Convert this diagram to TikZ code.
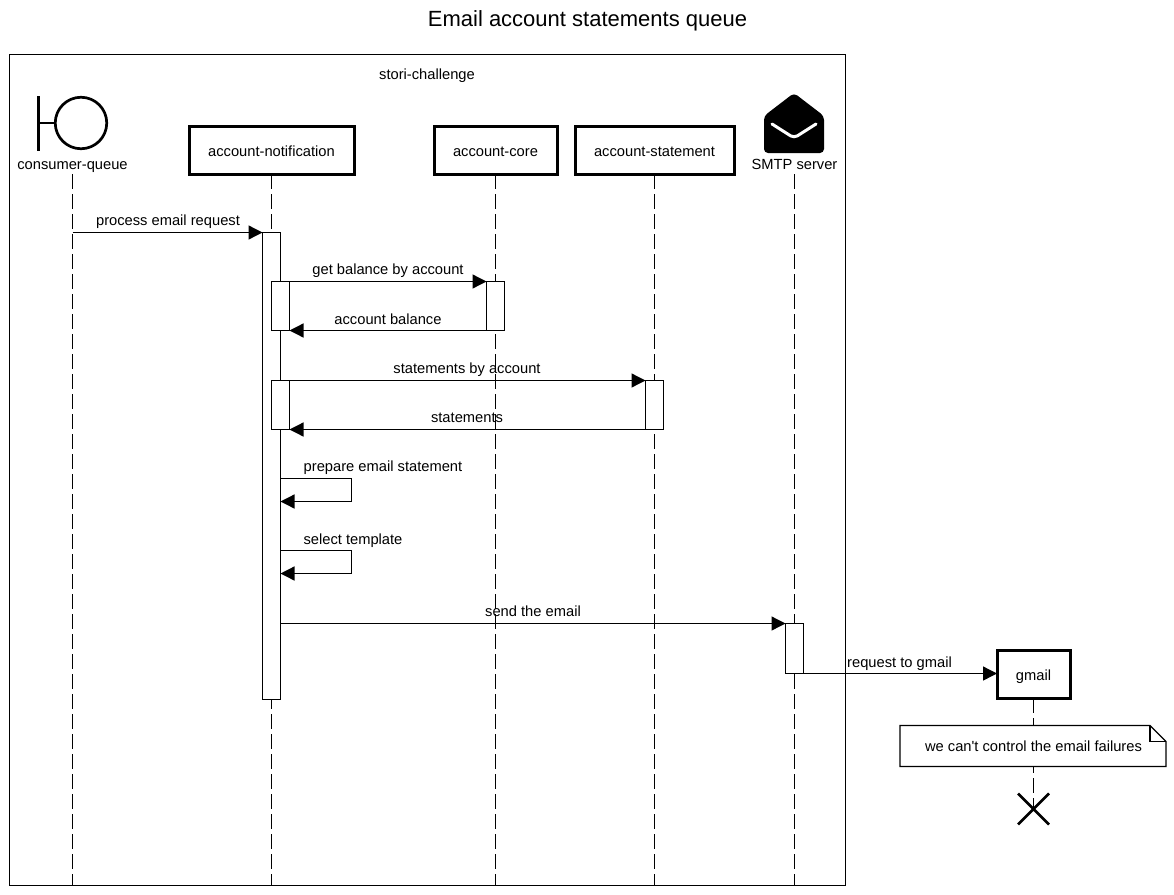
\documentclass[tikz,border=0pt]{standalone}
\usepackage{fontspec}
\setmainfont{Liberation Sans}
\usetikzlibrary{arrows.meta,shapes.misc}

\tikzset{
  every node/.style={font=\fontsize{14.7}{16}\selectfont, inner sep=0pt, outer sep=0pt, text height=11pt, text depth=0pt},
  actorbox/.style={draw, line width=3pt, fill=white, minimum height=48pt, text height=13.5pt},
  lifeline/.style={line width=1.3pt, dash pattern=on 15pt off 5pt},
  actbox/.style={draw, line width=1.3pt, fill=white, minimum width=18pt},
  msg/.style={line width=1.3pt, -{Triangle[length=14pt,width=14pt]}},
  heavy/.style={line width=2.7pt}
}

\begin{document}
\begin{tikzpicture}[x=1pt,y=-1pt]
    \useasboundingbox (0,0) rectangle (1174,894);
    \node [font=\fontsize{22}{24}\selectfont] (title) at (587.5,20.5) {Email account statements queue};
    \node [draw, line width=1.3pt, minimum width=836pt, minimum height=831pt] (frame) at (427.5,470) {};
    \node (frame-label) at (427,73.5) {stori-challenge};
    % participants
    \node [draw, heavy, circle, minimum size=51.5pt] (queue-circle) at (81,123) {};
    \coordinate (queue-bar-top) at (38.5,96);
    \coordinate (queue-bar-bot) at (38.5,151);
    \draw [heavy] (queue-bar-top) -- (queue-bar-bot);
    \draw [heavy] (queue-bar-top |- queue-circle.west) -- (queue-circle.west);
    \node (queue) at (72.5,164) [minimum height=20pt] {consumer-queue};
    \node [actorbox, minimum width=165pt] (notification) at (271.5,150) {account-notification};
    \node [actorbox, minimum width=123pt] (core) at (495.5,150) {account-core};
    \node [actorbox, minimum width=159pt] (statement) at (654.5,150) {account-statement};
    \fill [rounded corners=4pt] (794,93) -- (824,116) -- (824,153) -- (764,153) -- (764,116) -- cycle;
    \draw [white, line width=3pt, line cap=round, rounded corners=4pt] (772,124) -- (794,138) -- (816,124);
    \node (smtp) at (794.5,164) [minimum height=20pt] {SMTP server};
    \node [actorbox, minimum width=73pt] (gmail) at (1033.5,674) {gmail};
    \node [draw, cross out, line width=2.7pt, minimum size=31pt] (gmail-end) at (1033.5,809) {};
    % lifelines
    \draw [lifeline] (queue.south) -- (queue.south |- frame.south);
    \draw [lifeline] (notification.south) -- (notification.south |- frame.south);
    \draw [lifeline] (core.south) -- (core.south |- frame.south);
    \draw [lifeline] (statement.south) -- (statement.south |- frame.south);
    \draw [lifeline] (smtp.south) -- (smtp.south |- frame.south);
    \draw [lifeline] (gmail.south) -- (gmail-end.center);
    % activations
    \node [actbox, minimum height=467pt] (act-main) at (271.5,466) {};
    \node [actbox, minimum height=49pt] (act-balance) at (280.5,306) {};
    \node [actbox, minimum height=49pt] (act-core) at (495.5,306) {};
    \node [actbox, minimum height=49pt] (act-list) at (280.5,405) {};
    \node [actbox, minimum height=49pt] (act-statement) at (654.5,405) {};
    \node [actbox, minimum height=50pt] (act-smtp) at (794.5,648.5) {};
    % messages
    \coordinate (request-from) at (72.5,232.5);
    \draw [msg] (request-from) -- (act-main.north west);
    \node (request-label) at (168,220) {process email request};
    \draw [msg] (act-balance.north east) -- (act-core.north west);
    \node (balance-label) at (388,269) {get balance by account};
    \draw [msg] (act-core.south west) -- (act-balance.south east);
    \node (balance-reply) at (388,319) {account balance};
    \draw [msg] (act-list.north east) -- (act-statement.north west);
    \node (list-label) at (467,368) {statements by account};
    \draw [msg] (act-statement.south west) -- (act-list.south east);
    \node (list-reply) at (467,417) {statements};
    \coordinate (prepare-top) at (351.5,478.5);
    \coordinate (prepare-bot) at (351.5,501.5);
    \draw [msg] (act-main.east |- prepare-top) -- (prepare-top) -- (prepare-bot) -- (act-main.east |- prepare-bot);
    \node (prepare-label) at (383,466) {prepare email statement};
    \coordinate (template-top) at (351.5,550.5);
    \coordinate (template-bot) at (351.5,573.5);
    \draw [msg] (act-main.east |- template-top) -- (template-top) -- (template-bot) -- (act-main.east |- template-bot);
    \node (template-label) at (353,539) {select template};
    \draw [msg] (act-main.east |- act-smtp.north west) -- (act-smtp.north west);
    \node (send-label) at (533,611) {send the email};
    \draw [msg] (act-smtp.south east) -- (gmail.west |- act-smtp.south east);
    \node (gmail-label) at (899.5,662) {request to gmail};
    % note
    \node [minimum width=266pt, minimum height=41pt] (note) at (1033,746) {};
    \draw [line width=1.3pt, fill=white] (note.south west) -- (note.north west) -- ([xshift=-16pt]note.north east) -- ([yshift=-16pt]note.north east) -- (note.south east) -- cycle;
    \draw [line width=1.3pt] ([xshift=-16pt]note.north east) -- ([xshift=-16pt,yshift=-16pt]note.north east) -- ([yshift=-16pt]note.north east);
    \node (note-label) at (1033.5,746) {we can\textquotesingle t control the email failures};
\end{tikzpicture}
\end{document}
